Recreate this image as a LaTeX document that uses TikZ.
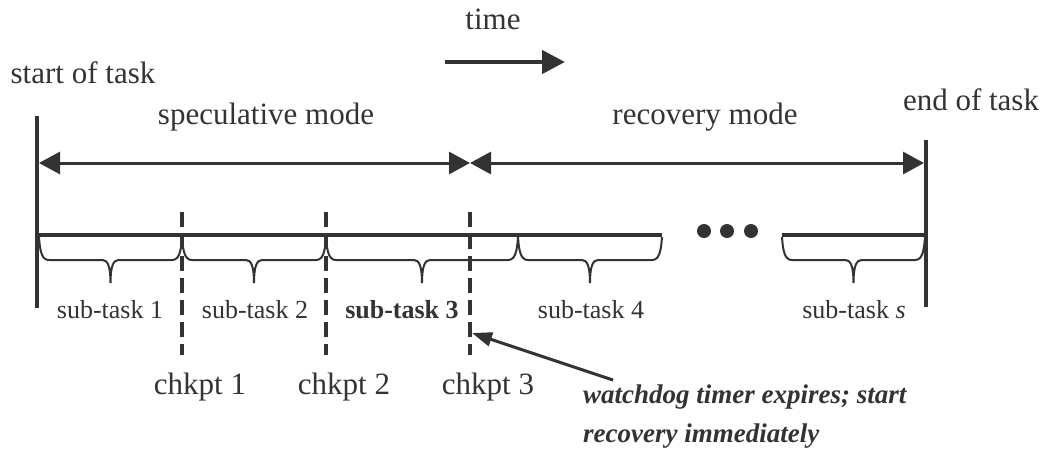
\documentclass[tikz,border=0pt]{standalone}
\usepackage{fontspec}
\setmainfont{Liberation Serif}
\usetikzlibrary{arrows.meta}
\definecolor{ink}{RGB}{51,51,51}

% curly brace under the time line, from x=#1 to x=#2
\newcommand{\subbrace}[2]{%
  \pgfmathsetmacro{\bmid}{(#1+#2)/2}%
  \draw[brace] (#1,237) .. controls (#1+1,252) and (#1+3,260) .. (#1+10,260)
    -- (\bmid-8,260) .. controls (\bmid-3,260) and (\bmid,266) .. (\bmid,283)
    .. controls (\bmid,266) and (\bmid+3,260) .. (\bmid+8,260)
    -- (#2-10,260) .. controls (#2-3,260) and (#2-1,252) .. (#2,237);%
}

\begin{document}
\begin{tikzpicture}[x=1pt, y=-1pt,
    lbl/.style={text=ink, inner sep=0pt, anchor=base, font=\fontsize{31}{37}\selectfont},
    sublbl/.style={text=ink, inner sep=0pt, anchor=base, font=\fontsize{26}{31}\selectfont},
    wdlbl/.style={text=ink, inner sep=0pt, anchor=base west, font=\fontsize{27}{32}\selectfont\bfseries\itshape},
    bound/.style={draw=ink, line width=4pt},
    chkline/.style={draw=ink, line width=4pt, dash pattern=on 15pt off 7pt},
    mode/.style={draw=ink, line width=3pt, {Triangle[length=21pt,width=22pt]}-{Triangle[length=21pt,width=22pt]}},
    brace/.style={draw=ink, line width=2pt}]

	\useasboundingbox (0,0) rectangle (1042,453);

	% top labels
	\node[lbl] (time) at (493,29) {time};
	\node[lbl] (taskstart) at (83,83) {start of task};
	\node[lbl] (taskend) at (971,110) {end of task};
	\node[lbl] (spec) at (266,124) {speculative mode};
	\node[lbl] (rec) at (705,124) {recovery mode};

	\coordinate (t0) at (445,62);
	\coordinate (t1) at (565,62);
	\draw[draw=ink, line width=4.5pt, -{Triangle[length=23pt,width=23pt]}] (t0) -- (t1);

	% start and end of task
	\coordinate (s0) at (37,116);
	\coordinate (s1) at (37,308);
	\coordinate (e0) at (926,140);
	\coordinate (e1) at (926,307);
	\draw[bound] (s0) -- (s1);
	\draw[bound] (e0) -- (e1);

	% modes
	\coordinate (specL) at (39,163);
	\coordinate (switch) at (470,163);
	\coordinate (recR) at (924,163);
	\draw[mode] (specL) -- (switch);
	\draw[mode] (switch) -- (recR);

	% time line
	\coordinate (tl0) at (37,235);
	\coordinate (tl1) at (662,235);
	\coordinate (tl2) at (782,235);
	\coordinate (tl3) at (926,235);
	\draw[bound] (tl0) -- (tl1);
	\draw[bound] (tl2) -- (tl3);
	\foreach \x in {704,727,751}
		\fill[ink] (\x,231) circle (7);

	% checkpoints
	\foreach \x/\n in {182/1, 326/2, 470/3} {
		\draw[chkline] (\x,212) -- (\x,355);
		\node[lbl] (chk\n) at (\x+18,394) {chkpt \n};
	}

	% sub-tasks
	\subbrace{39}{182}
	\subbrace{182}{326}
	\subbrace{326}{518}
	\subbrace{518}{662}
	\subbrace{782}{925}

	\node[sublbl] (sub1) at (110,318) {sub-task 1};
	\node[sublbl] (sub2) at (255,318) {sub-task 2};
	\node[sublbl] (sub3) at (402,318) {\textbf{sub-task 3}};
	\node[sublbl] (sub4) at (591,318) {sub-task 4};
	\node[sublbl] (subs) at (854,318) {sub-task \textit{s}};

	% watchdog
	\node[wdlbl] (wd1) at (583,403) {watchdog timer expires; start};
	\node[wdlbl] (wd2) at (583,442) {recovery immediately};
	\coordinate (wdtail) at (613,380);
	\coordinate (wdtip) at (472,333);
	\draw[draw=ink, line width=3pt, -{Triangle[length=20pt,width=14pt]}] (wdtail) -- (wdtip);

\end{tikzpicture}
\end{document}
